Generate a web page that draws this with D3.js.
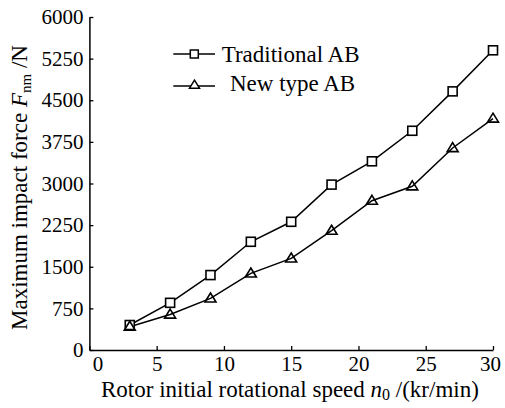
<!DOCTYPE html>
<html>
<head>
<meta charset="utf-8">
<script src="https://cdn.jsdelivr.net/npm/d3@7"></script>
<style>
  html, body { margin: 0; padding: 0; background: #fff; }
  svg { display: block; }
</style>
</head>
<body>
<svg id="chart" width="505" height="408"></svg>
<script>
const speeds = [3, 6, 9, 12, 15, 18, 21, 24, 27, 30];
const traditionalAB = [450, 850, 1350, 1950, 2310, 2980, 3400, 3950, 4660, 5400];
const newTypeAB = [420, 640, 930, 1380, 1650, 2150, 2690, 2950, 3640, 4170];
const xTicks = [0, 5, 10, 15, 20, 25, 30];
const yTicks = [0, 750, 1500, 2250, 3000, 3750, 4500, 5250, 6000];
const seriesNames = ["Traditional AB", "New type AB"];

const FONT = "Liberation Serif";
const W = 505, H = 408;
const m = { left: 89.4, right: 12, top: 17, bottom: 58 };
const svg = d3.select("#chart");

const x = d3.scaleLinear().domain([0, 30]).range([m.left, W - m.right]);
const y = d3.scaleLinear().domain([0, 6000]).range([H - m.bottom, m.top]);

// axes
const gx = svg.append("g").attr("transform", `translate(0,${H - m.bottom})`)
  .call(d3.axisBottom(x).tickValues(xTicks).tickFormat(d3.format("d")).tickSize(-4).tickPadding(6).tickSizeOuter(0));
gx.attr("font-family", FONT).attr("font-size", 21);
gx.selectAll(".tick").filter(d => d === 0).select("text").attr("dx", 8);
gx.selectAll(".tick").filter(d => d === 30).select("text").attr("dx", -3);

const gy = svg.append("g").attr("transform", `translate(${m.left},0)`)
  .call(d3.axisLeft(y).tickValues(yTicks).tickFormat(d3.format("d")).tickSize(-4).tickPadding(6).tickSizeOuter(0));
gy.attr("font-family", FONT).attr("font-size", 21);

[gx, gy].forEach(g => {
  g.selectAll("text").attr("fill", "#000");
  g.select(".domain").attr("stroke", "#000").attr("stroke-width", 1.5);
  g.selectAll(".tick line").attr("stroke", "#000").attr("stroke-width", 1.3);
});

// axis titles
const xt = svg.append("text").attr("x", 101).attr("y", 397)
  .attr("font-family", FONT).attr("font-size", 23).attr("fill", "#000");
xt.append("tspan").text("Rotor initial rotational speed ");
xt.append("tspan").attr("font-style", "italic").text("n");
xt.append("tspan").attr("dy", 3).attr("font-size", 16).text("0");
xt.append("tspan").attr("dy", -3).text(" /(kr/min)");

const yt = svg.append("text").attr("transform", "translate(27,330) rotate(-90)")
  .attr("font-family", FONT).attr("font-size", 23).attr("fill", "#000");
yt.append("tspan").text("Maximum impact force ");
yt.append("tspan").attr("font-style", "italic").text("F");
yt.append("tspan").attr("dy", 4).attr("font-size", 15).text("nm");
yt.append("tspan").attr("dy", -4).text(" /N");

// lines
const data1 = speeds.map((s, i) => [s, traditionalAB[i]]);
const data2 = speeds.map((s, i) => [s, newTypeAB[i]]);
const line = d3.line().x(d => x(d[0])).y(d => y(d[1]));

function triPath(cx, cy, w, h) {
  return `M${cx},${cy - h * 0.6}L${cx + w / 2},${cy + h * 0.4}L${cx - w / 2},${cy + h * 0.4}Z`;
}

svg.append("path").datum(data1).attr("d", line).attr("fill", "none").attr("stroke", "#000").attr("stroke-width", 1.5);
svg.append("path").datum(data2).attr("d", line).attr("fill", "none").attr("stroke", "#000").attr("stroke-width", 1.5);

svg.append("g").selectAll("rect").data(data1).join("rect")
  .attr("x", d => x(d[0]) - 4.5).attr("y", d => y(d[1]) - 4.5)
  .attr("width", 9).attr("height", 9)
  .attr("fill", "#fff").attr("stroke", "#000").attr("stroke-width", 1.6);

svg.append("g").selectAll("path").data(data2).join("path")
  .attr("d", d => triPath(x(d[0]), y(d[1]), 11, 9))
  .attr("fill", "none").attr("stroke", "#000").attr("stroke-width", 1.6).attr("stroke-linejoin", "miter");

// legend
const lg = svg.append("g").attr("font-family", FONT).attr("font-size", 23);
const rows = [
  { name: seriesNames[0], ly: 54, ty: 61.7, tx: 221.7, sym: "square" },
  { name: seriesNames[1], ly: 86, ty: 90.5, tx: 230, sym: "tri" }
];
rows.forEach(r => {
  lg.append("line").attr("x1", 173.3).attr("x2", 215).attr("y1", r.ly).attr("y2", r.ly)
    .attr("stroke", "#000").attr("stroke-width", 1.5);
  if (r.sym === "square") {
    lg.append("rect").attr("x", 194.3 - 4).attr("y", r.ly - 4).attr("width", 8).attr("height", 8)
      .attr("fill", "#fff").attr("stroke", "#000").attr("stroke-width", 1.5);
  } else {
    lg.append("path").attr("d", triPath(194.5, r.ly - 1, 10, 8))
      .attr("fill", "#fff").attr("stroke", "#000").attr("stroke-width", 1.5);
  }
  lg.append("text").attr("x", r.tx).attr("y", r.ty).attr("fill", "#000").text(r.name);
});
</script>
</body>
</html>
